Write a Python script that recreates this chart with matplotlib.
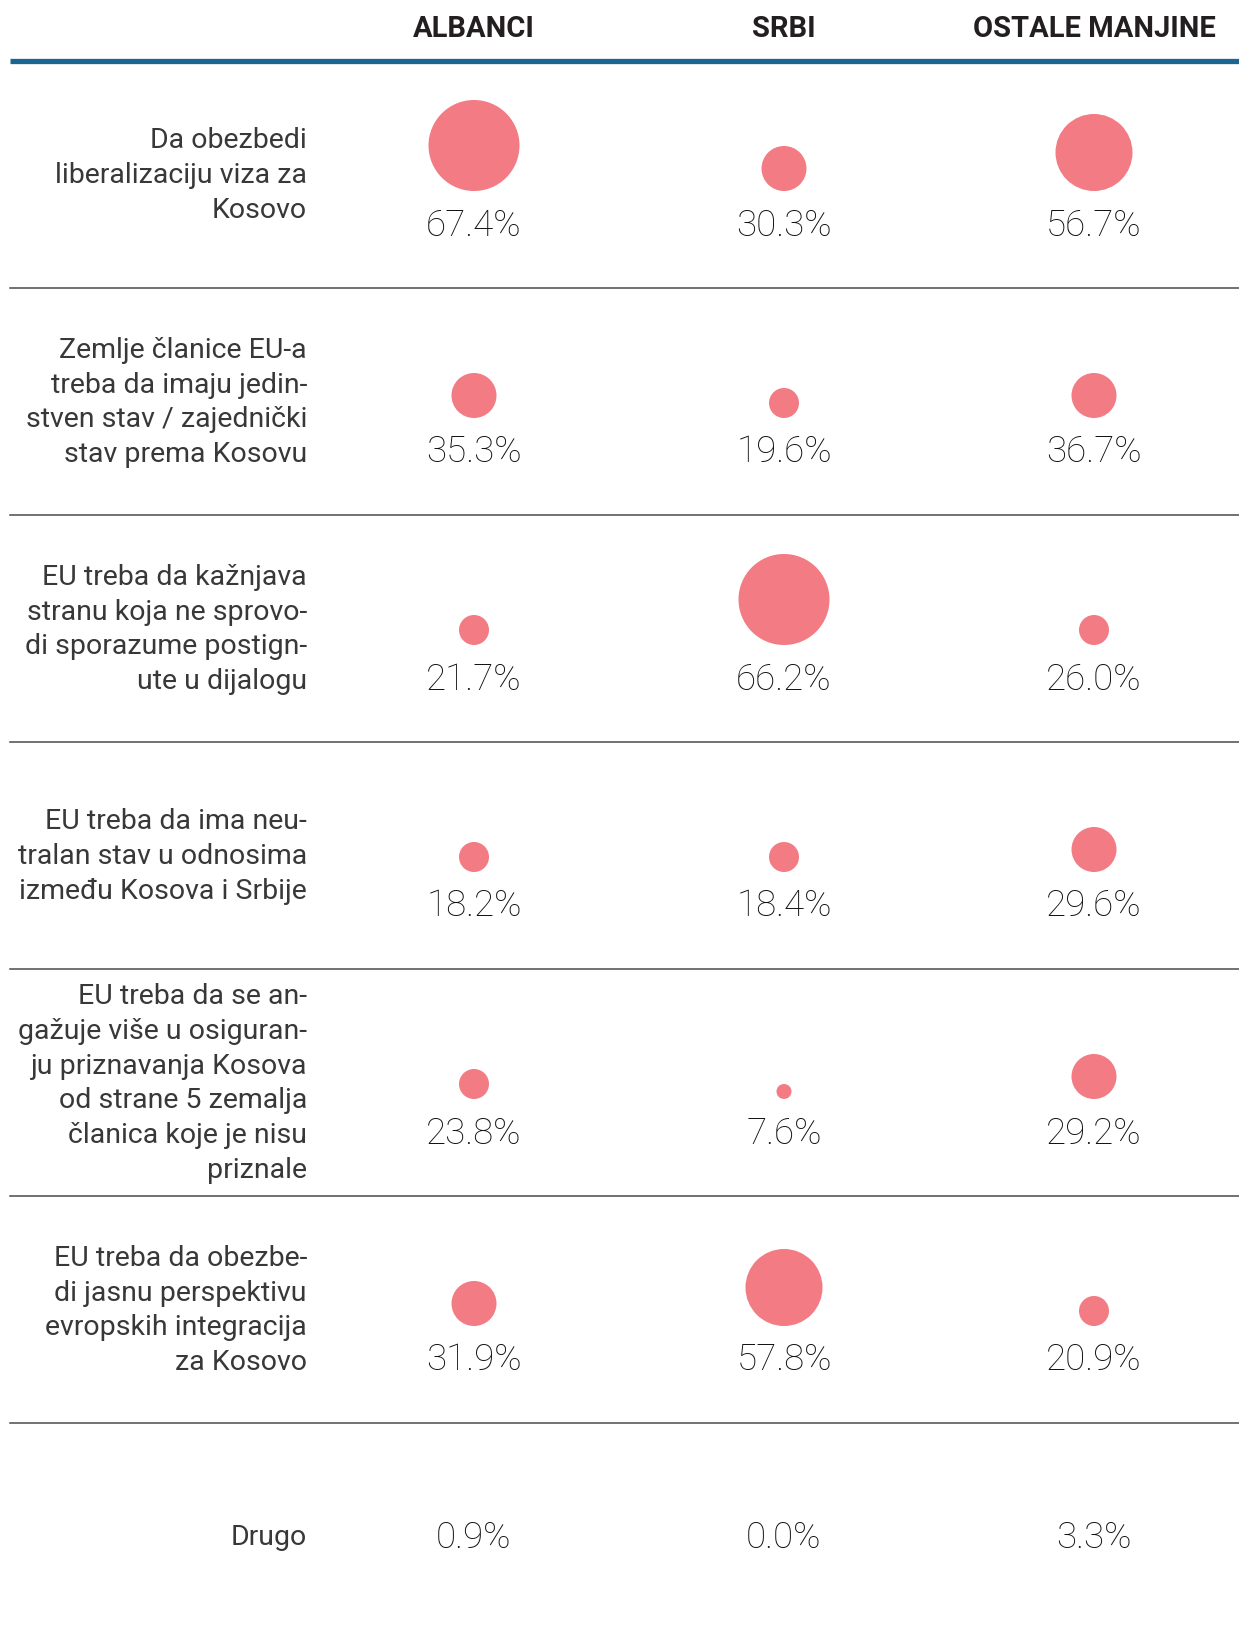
import matplotlib.pyplot as plt
from matplotlib.patches import Circle

groups = ["ALBANCI", "SRBI", "OSTALE MANJINE"]

labels = [
    "Da obezbedi\nliberalizaciju viza za\nKosovo",
    "Zemlje članice EU-a\ntreba da imaju jedin-\nstven stav / zajednički\nstav prema Kosovu",
    "EU treba da kažnjava\nstranu koja ne sprovo-\ndi sporazume postign-\nute u dijalogu",
    "EU treba da ima neu-\ntralan stav u odnosima\nizmeđu Kosova i Srbije",
    "EU treba da se an-\ngažuje više u osiguran-\nju priznavanja Kosova\nod strane 5 zemalja\nčlanica koje je nisu\npriznale",
    "EU treba da obezbe-\ndi jasnu perspektivu\nevropskih integracija\nza Kosovo",
    "Drugo",
]

albanci = [67.4, 35.3, 21.7, 18.2, 23.8, 31.9, 0.9]
srbi = [30.3, 19.6, 66.2, 18.4, 7.6, 57.8, 0.0]
ostale = [56.7, 36.7, 26.0, 29.6, 29.2, 20.9, 3.3]

# last row (Drugo) has no bubbles
bubbles = [True, True, True, True, True, True, False]

W, H = 1239, 1642
pink = "#f27b84"
txt = "#231f20"

plt.rcParams['font.family'] = ['Roboto', 'DejaVu Sans']

fig = plt.figure(figsize=(W / 100, H / 100), dpi=100)
ax = fig.add_axes([0, 0, 1, 1])
ax.set_xlim(0, W)
ax.set_ylim(H, 0)
ax.axis('off')

col_x = [474, 784, 1094]
top = 61
step = 227
label_x = 307


def diameter(v):
    # bubbles come in a few fixed sizes
    if v < 5:
        return 0
    if v < 10:
        return 15
    if v < 28:
        return 30
    if v < 45:
        return 45
    if v < 62:
        return 77
    return 91


for j, g in enumerate(groups):
    ax.text(col_x[j], 29, g, ha='center', va='center', fontsize=21,
            fontweight='bold', color=txt)

ax.plot([10, W], [top, top], color="#1b6592", lw=3.8, solid_capstyle='butt')

for i, lab in enumerate(labels):
    yc = top + step * i + step / 2
    ax.text(label_x, yc + 1, lab, ha='right', va='center', fontsize=20.5,
            fontweight='normal', color="#383838", linespacing=1.37)
    for j, vals in enumerate([albanci, srbi, ostale]):
        v = vals[i]
        if bubbles[i]:
            d = diameter(v)
            if d > 0:
                ax.add_patch(Circle((col_x[j], yc + 16.5 - d / 2), d / 2,
                                    color=pink, lw=0))
            ty = yc + 51
        else:
            ty = yc + 2
        ax.text(col_x[j], ty, "%.1f%%" % v, ha='center', va='center',
                fontsize=26.5, fontweight='light', color="#111111")
    if i < len(labels) - 1:
        ys = top + step * (i + 1)
        ax.plot([10, W], [ys, ys], color="#4a4a4a", lw=1.1)

plt.savefig("out.png", dpi=100)
